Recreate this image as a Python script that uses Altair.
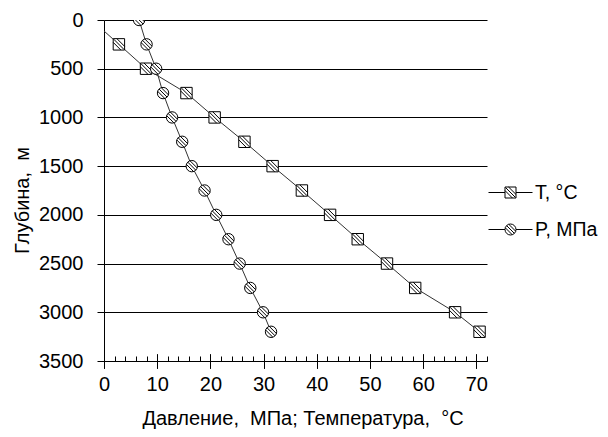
import altair as alt
import pandas as pd

# ---- data ----
depth_T = [0, 250, 500, 750, 1000, 1250, 1500, 1750, 2000, 2250, 2500, 2750, 3000, 3200]
temp_T = [-2.3, 2.8, 7.9, 15.5, 20.8, 26.4, 31.7, 37.2, 42.5, 47.7, 53.2, 58.5, 66.0, 70.6]
depth_P = [0, 250, 500, 750, 1000, 1250, 1500, 1750, 2000, 2250, 2500, 2750, 3000, 3200]
pres_P = [6.6, 8.0, 9.8, 11.1, 12.8, 14.7, 16.5, 18.9, 21.1, 23.4, 25.5, 27.5, 29.9, 31.4]
series_names = ["T, °C", "P, МПа"]
x_ticks = list(range(0, 71, 10))
x_minor = list(range(0, 73, 2))
y_ticks = list(range(0, 3501, 500))
x_title = "Давление,\u00a0 МПа; Температура,\u00a0 °C"
y_title = "Глубина,\u00a0 м"

rows = []
for d, v in zip(depth_T, temp_T):
    rows.append({"depth": d, "value": v, "series": series_names[0]})
for d, v in zip(depth_P, pres_P):
    rows.append({"depth": d, "value": v, "series": series_names[1]})
df = pd.DataFrame(rows)

FONT = "Liberation Sans"

# marker shapes (unit box -1..1)
sq = ("M-1,-1H1V1H-1Z M-1,-0.35L0.35,1 M-0.35,-1L1,0.35 M-0.9,-0.9L0.9,0.9")
circ = ("M1,0A1,1,0,1,1,-1,0A1,1,0,1,1,1,0Z M-0.707,-0.707L0.707,0.707 "
        "M-0.313,-0.949L0.949,0.313 M-0.949,-0.313L0.313,0.949")
# legend shapes: marker with line stubs
lsq = ("M-2,0H-0.5M0.5,0H2M-0.5,-0.5H0.5V0.5H-0.5Z M-0.5,-0.175L0.175,0.5 "
       "M-0.175,-0.5L0.5,0.175 M-0.45,-0.45L0.45,0.45")
lcirc = ("M-2,0H-0.5M0.5,0H2M0.5,0A0.5,0.5,0,1,1,-0.5,0A0.5,0.5,0,1,1,0.5,0Z "
         "M-0.354,-0.354L0.354,0.354 M-0.157,-0.474L0.474,0.157 M-0.474,-0.157L0.157,0.474")

x_scale = alt.Scale(domain=[0, 72], nice=False, zero=False)
y_scale = alt.Scale(domain=[0, 3500], reverse=True, nice=False, zero=False)

ax_main = alt.Axis(orient="bottom", values=x_ticks, grid=False, tickSize=7,
                   tickColor="black", domainColor="black", labelFlush=False,
                   labelPadding=6, labelFontSize=20, labelColor="black",
                   title=x_title, titleX=198.5, titleY=63, titleBaseline="alphabetic",
                   titleAlign="center", titleFontSize=20, titleFontWeight="normal",
                   titleColor="black")
ax_major = alt.Axis(orient="bottom", values=x_ticks, offset=-7, tickSize=14,
                    tickColor="black", domain=False, labels=False, grid=False, title=None)
ax_minor = alt.Axis(orient="bottom", values=x_minor, offset=-5, tickSize=5,
                    tickColor="black", domain=False, labels=False, grid=False, title=None)

y_axis = alt.Axis(values=y_ticks, format="d", grid=True, gridColor="black", gridWidth=1,
                  tickSize=7, tickColor="black", domainColor="black",
                  labelFontSize=20, labelColor="black", labelPadding=14,
                  title=y_title, titleFontSize=20, titleFontWeight="normal",
                  titleColor="black", titleAngle=270, titleX=-76, titleY=180,
                  titleBaseline="alphabetic", titleAlign="center")

base = alt.Chart(df)
is_T = alt.datum.series == series_names[0]
is_P = alt.datum.series == series_names[1]
Y = alt.Y("depth:Q", scale=y_scale, axis=y_axis)

line_T = base.transform_filter(is_T).mark_line(
    color="#333333", strokeWidth=1, clip=True
).encode(
    x=alt.X("value:Q", scale=x_scale, axis=ax_main),
    y=Y,
    order="depth:Q",
)

line_P = base.transform_filter(is_P).mark_line(
    color="#333333", strokeWidth=1, clip=True
).encode(
    x=alt.X("value:Q", scale=x_scale, axis=ax_minor),
    y=Y,
    order="depth:Q",
)

pt_style = dict(filled=True, fill="white", stroke="black", strokeWidth=1,
                size=130, opacity=1, clip=True)

points_T = base.transform_filter(is_T).mark_point(shape=sq, **pt_style).encode(
    x=alt.X("value:Q", scale=x_scale, axis=ax_major),
    y=Y,
)
points_P = base.transform_filter(is_P).mark_point(shape=circ, **pt_style).encode(
    x=alt.X("value:Q", scale=x_scale, axis=ax_major),
    y=Y,
)

# legend-only layer (no rows drawn; legend comes from the shape scale)
legend_layer = base.transform_filter(alt.datum.depth < 0).mark_point(
    filled=False, color="black", strokeWidth=1, size=484, opacity=1
).encode(
    x=alt.X("value:Q", scale=x_scale, axis=ax_major),
    y=Y,
    shape=alt.Shape(
        "series:N",
        scale=alt.Scale(domain=series_names, range=[lsq, lcirc]),
        legend=alt.Legend(
            title=None, orient="none", legendX=395, legendY=161,
            symbolSize=484, labelOffset=13, rowPadding=16,
            symbolStrokeColor="black", symbolStrokeWidth=1, symbolOpacity=1,
            labelFont=FONT, labelFontSize=19.5, labelColor="black",
        ),
    ),
)

chart = alt.layer(line_T, line_P, points_T, points_P, legend_layer).resolve_axis(
    x="independent"
).properties(
    width=383, height=341,
    padding={"left": 96, "top": 12, "right": 113, "bottom": 68},
    autosize=alt.AutoSizeParams(type="none"),
).configure_view(stroke=None).configure_axis(
    labelFont=FONT, titleFont=FONT
).configure_legend(labelFont=FONT)

chart.save("out.html", embed_options={"renderer": "svg", "actions": False})
